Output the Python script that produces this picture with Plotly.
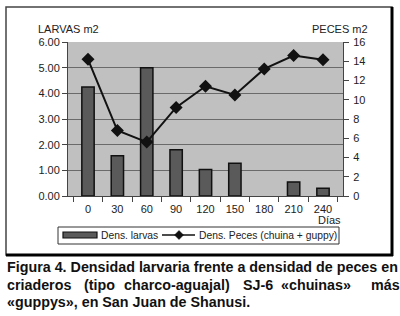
import plotly.graph_objects as go

# ---- data ----
dias = ["0", "30", "60", "90", "120", "150", "180", "210", "240"]
larvas = [4.25, 1.57, 5.0, 1.8, 1.03, 1.28, None, 0.55, 0.30]
peces = [14.2, 6.8, 5.6, 9.2, 11.4, 10.5, 13.2, 14.6, 14.15]

left_ticks = [0, 1, 2, 3, 4, 5, 6]
right_ticks = [0, 2, 4, 6, 8, 10, 12, 14, 16]

series_names = ["Dens. larvas", "Dens. Peces (chuina + guppy)"]

caption1 = "Figura 4. Densidad larvaria frente a densidad de peces en"
caption2_words = ["criaderos", "(tipo", "charco-aguajal)", "SJ-6", "«chuinas»", "más"]
caption3 = "«guppys», en San Juan de Shanusi."

# ---- layout geometry (pixels) ----
W, H = 400, 316
L, R, T, B = 68, 57, 42, 120
PW, PH = W - L - R, H - T - B


def xp(px):
    return (px - L) / PW


def yp(py):
    return (H - B - py) / PH


FONT = "Liberation Sans, Arial, sans-serif"
BAR_FILL = "#5a5a5a"
INK = "#111111"

fig = go.Figure()
fig.add_trace(go.Bar(
    x=dias, y=larvas, name=series_names[0],
    marker=dict(color=BAR_FILL, line=dict(color=INK, width=1.5)),
    width=0.42, yaxis="y", showlegend=False,
))
fig.add_trace(go.Scatter(
    x=dias, y=peces, name=series_names[1],
    mode="lines+markers",
    line=dict(color=INK, width=2),
    marker=dict(symbol="diamond", size=10, color=INK),
    yaxis="y2", showlegend=False,
))

annotations = [
    dict(text="LARVAS m2", x=xp(68), y=yp(29.5), xanchor="center", yanchor="middle",
         font=dict(size=11, color="#222")),
    dict(text="PECES m2", x=xp(340), y=yp(29.5), xanchor="center", yanchor="middle",
         font=dict(size=11, color="#222")),
    dict(text="Días", x=xp(343), y=yp(220), xanchor="right", yanchor="middle",
         font=dict(size=11, color="#222")),
    dict(text="<b>" + caption1 + "</b>", x=xp(5), y=yp(266.5), xanchor="left", yanchor="middle",
         font=dict(size=14.3, color="#111")),
    dict(text="<b>" + caption3 + "</b>", x=xp(5), y=yp(302), xanchor="left", yanchor="middle",
         font=dict(size=14.3, color="#111")),
    # legend labels
    dict(text=series_names[0], x=xp(99), y=yp(235.5), xanchor="left", yanchor="middle",
         font=dict(size=10.3, color="#222")),
    dict(text=series_names[1], x=xp(197), y=yp(235.5), xanchor="left", yanchor="middle",
         font=dict(size=10.3, color="#222")),
]
word_x = [5, 82, 122, 241, 279, 369]
for wx, w in zip(word_x, caption2_words):
    annotations.append(dict(text="<b>" + w + "</b>", x=xp(wx), y=yp(284.5), xanchor="left",
                            yanchor="middle", font=dict(size=14.3, color="#111")))
for a in annotations:
    a.update(xref="paper", yref="paper", showarrow=False)


def pr(x0, y0, x1, y1, **kw):
    d = dict(type="rect", xref="paper", yref="paper", x0=xp(x0), x1=xp(x1), y0=yp(y1), y1=yp(y0))
    d.update(kw)
    return d


def pl(x0, y0, x1, y1, **kw):
    d = dict(type="line", xref="paper", yref="paper", x0=xp(x0), x1=xp(x1), y0=yp(y0), y1=yp(y1))
    d.update(kw)
    return d


dx, dy, dr = 179, 235, 4.5
diamond = "M {} {} L {} {} L {} {} L {} {} Z".format(
    xp(dx - dr), yp(dy), xp(dx), yp(dy - dr), xp(dx + dr), yp(dy), xp(dx), yp(dy + dr))

shapes = [
    # outer frame
    pr(6, 7, 392, 255, line=dict(color="#444", width=1.5)),
    pl(392, 7, 392, 256, line=dict(color="#000", width=3)),
    pl(6, 255, 393, 255, line=dict(color="#000", width=3)),
    # legend box
    pr(58, 227, 339, 244, line=dict(color="#333", width=1), fillcolor="white"),
    pr(63, 232, 97, 238, line=dict(color=INK, width=1.2), fillcolor=BAR_FILL),
    pl(162, 235, 195, 235, line=dict(color=INK, width=1.5)),
    dict(type="path", xref="paper", yref="paper", path=diamond, fillcolor=INK,
         line=dict(color=INK, width=0.5)),
]

fig.update_layout(
    width=W, height=H,
    margin=dict(l=L, r=R, t=T, b=B, pad=0),
    paper_bgcolor="white", plot_bgcolor="#c0c0c0",
    font=dict(family=FONT, size=11, color="#222"),
    showlegend=False,
    xaxis=dict(type="category", tickson="boundaries", ticks="outside", ticklen=5,
               tickcolor="#444", showgrid=False, showline=True, linecolor="#444",
               linewidth=1, tickfont=dict(size=11), ticklabelstandoff=3, fixedrange=True),
    yaxis=dict(range=[0, 6], tickvals=left_ticks, tickformat=".2f", ticks="outside",
               ticklen=5, tickcolor="#444", showline=True, linecolor="#444", linewidth=1,
               showgrid=True, gridcolor="#6a6a6a", gridwidth=1, zeroline=False,
               tickfont=dict(size=11)),
    yaxis2=dict(range=[0, 16], tickvals=right_ticks, overlaying="y", side="right",
                ticks="outside", ticklen=5, tickcolor="#444", showline=True,
                linecolor="#444", linewidth=1, showgrid=False, zeroline=False,
                tickfont=dict(size=11), ticklabelstandoff=2),
    annotations=annotations,
    shapes=shapes,
)

fig.write_html("out.html", config={"displayModeBar": False},
               post_script="document.body.style.margin='0';document.body.style.padding='0';")
